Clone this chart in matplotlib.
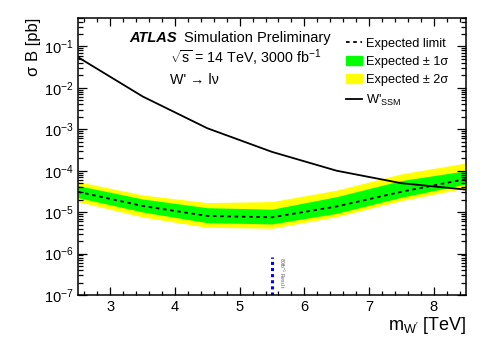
import numpy as np
import matplotlib
matplotlib.use('Agg')
import matplotlib.pyplot as plt
from matplotlib.lines import Line2D
from matplotlib.patches import Patch
from matplotlib.ticker import MultipleLocator, LogLocator

plt.rcParams['font.family'] = ['Liberation Sans', 'DejaVu Sans']
plt.rcParams['mathtext.fontset'] = 'custom'
plt.rcParams['mathtext.rm'] = 'Liberation Sans'
plt.rcParams['mathtext.it'] = 'Liberation Sans'
plt.rcParams['mathtext.bf'] = 'Liberation Sans:bold'

# W' mass points (TeV)
mass = [2.5, 3.5, 4.5, 5.5, 6.5, 7.5, 8.5]
# expected limit and bands (pb)
exp_limit = [3.1e-5, 1.41e-5, 8.1e-6, 7.5e-6, 1.37e-5, 3.1e-5, 6.3e-5]
sig1_up = [4.37e-5, 2.08e-5, 1.28e-5, 1.18e-5, 2.37e-5, 5.8e-5, 1.0e-4]
sig1_dn = [2.24e-5, 1.01e-5, 5.57e-6, 5.2e-6, 9.4e-6, 2.29e-5, 4.8e-5]
sig2_up = [5.46e-5, 2.6e-5, 1.7e-5, 1.8e-5, 3.4e-5, 8.4e-5, 1.54e-4]
sig2_dn = [1.8e-5, 7.65e-6, 4.3e-6, 4.1e-6, 7.8e-6, 1.9e-5, 3.85e-5]
# SSM W' cross section (pb)
ssm_xsec = [5.5e-2, 6.2e-3, 1.06e-3, 2.85e-4, 1.0e-4, 5.0e-5, 3.5e-5]
# previous 80 fb-1 result marker
prev_mass = [5.5, 5.5]
prev_y = [1e-7, 8.4e-7]

fig = plt.figure(figsize=(4.91, 3.52), dpi=100)
ax = fig.add_axes([78/491, 1-295/352, 388/491, 277.5/352])

ax.fill_between(mass, sig2_dn, sig2_up, color='#ffff00', lw=0)
ax.fill_between(mass, sig1_dn, sig1_up, color='#00ff00', lw=0)
ax.plot(mass, exp_limit, color='k', ls=(0, (2, 2)), lw=1.3)
ax.plot(mass, ssm_xsec, color='k', lw=1.3)
ax.plot(prev_mass, prev_y, color='#0000ff', ls=(0, (1, 1)), lw=2.2)
ax.text(5.58, 8.4e-7, r'80fb$^{-1}$ Result', rotation=-90, fontsize=3.6,
        color='#555555', va='top', ha='left')

ax.set_yscale('log')
ax.set_xlim(2.5, 8.5)
ax.set_ylim(1e-7, 0.5)
ax.xaxis.set_major_locator(MultipleLocator(1))
ax.xaxis.set_minor_locator(MultipleLocator(0.2))
ax.yaxis.set_major_locator(LogLocator(base=10, numticks=20))
ax.yaxis.set_minor_locator(LogLocator(base=10, subs=np.arange(2, 10), numticks=20))

for s in ax.spines.values():
    s.set_linewidth(1.1)
ax.tick_params(which='both', direction='in', top=True, right=True, width=0.9,
               labelsize=10.5)
ax.tick_params(axis='y', which='major', length=6.5, pad=3)
ax.tick_params(axis='y', which='minor', length=3.6)
ax.tick_params(axis='x', which='major', length=5.8, pad=3.5)
ax.tick_params(axis='x', which='minor', length=3.2)

ax.set_xlabel(r"m$_{\mathregular{W'}}$ [TeV]", fontsize=13, loc='right', labelpad=1)
ax.set_ylabel("\u03c3 B [pb]", fontsize=12, loc='top', labelpad=2)

fig.text(129/491, 1-42/352, 'ATLAS', fontsize=10.5, fontweight='bold',
         fontstyle='italic')
fig.text(184/491, 1-42/352, 'Simulation Preliminary', fontsize=10.5)
fig.text(170/491, 1-63/352, r'$\sqrt{s}$ = 14 TeV, 3000 fb$^{-1}$', fontsize=10.3)
fig.text(170/491, 1-84/352, "W' \u2192 l\u03bd", fontsize=10.3)

handles = [Line2D([], [], color='k', ls=(0, (2, 2)), lw=1.3),
           Patch(color='#00ff00'),
           Patch(color='#ffff00'),
           Line2D([], [], color='k', lw=1.3)]
labels = ['Expected limit', 'Expected \u00b1 1\u03c3',
          'Expected \u00b1 2\u03c3', r"W'$_{\mathregular{SSM}}$"]
ax.legend(handles, labels, loc='upper left', frameon=False, fontsize=9.2,
          bbox_to_anchor=(346/491, 1-37.5/352), bbox_transform=fig.transFigure,
          borderpad=0, handlelength=1.25, handletextpad=0.3,
          labelspacing=0.5, borderaxespad=0)

fig.savefig('out.png', dpi=100)
